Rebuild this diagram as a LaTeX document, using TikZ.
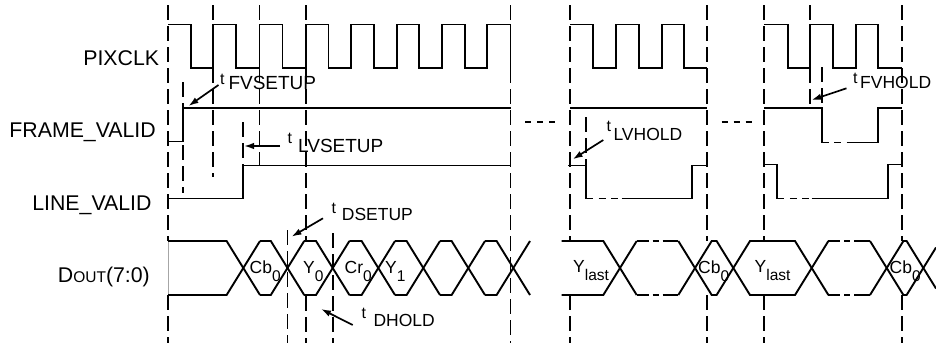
\documentclass[tikz,border=0pt]{standalone}
\usepackage{fontspec}
\setmainfont{Liberation Sans}
\usetikzlibrary{arrows.meta}
\begin{document}
\begin{tikzpicture}[x=1pt,y=-1pt,
  sig/.style={line width=1.9pt},
  gridl/.style={line width=1.7pt, dash pattern=on 15pt off 6pt},
  lowdash/.style={line width=1.9pt, dash pattern=on 7pt off 5.5pt},
  dd/.style={line width=1.9pt, dash pattern=on 12pt off 4pt on 6pt off 4pt on 20pt off 10pt},
  arr/.style={line width=1.7pt, -{Latex[length=10pt,width=6.5pt]}},
  mlab/.style={font=\fontsize{21.3}{24}\selectfont, inner sep=0pt},
  lab/.style={font=\fontsize{17.5}{20}\selectfont, inner sep=0pt, anchor=base west},
  labb/.style={font=\fontsize{19}{22}\selectfont, inner sep=0pt, anchor=base west},
  tsm/.style={font=\fontsize{16}{18}\selectfont, inner sep=0pt, anchor=base west},
  dat/.style={font=\fontsize{17.5}{20}\selectfont, inner sep=0pt, anchor=base west},
]
\newcommand{\mysub}[1]{\raisebox{-8.5pt}{\fontsize{15.5}{17}\selectfont #1}}
\useasboundingbox (0,0) rectangle (936,343);

% ---------- signal names ----------
\node[mlab, anchor=base east] (npix) at (159.3,65) {PIXCLK};
\node[mlab, anchor=base east] (nfv) at (156,137.3) {FRAME\_VALID};
\node[mlab, anchor=base east] (nlv) at (151.7,210) {LINE\_VALID};
\node[mlab, anchor=base east] (nd) at (150,282.7) {D{\fontsize{15.5}{17}\selectfont OUT}(7:0)};

% ---------- dashed reference lines ----------
\draw[gridl] (168,5) -- (168,241);
\draw[gray!70, line width=0.6pt] (168,241) -- (168,295);
\draw[gridl] (168,295) -- (168,343);
\draw[gridl] (183,82) -- (183,193);
\draw[gridl] (213,5) -- (213,177);
\draw[gridl] (243,122) -- (243,166);
\draw[gridl] (259.5,5) -- (259.5,166);
\draw[gridl] (305.7,5) -- (305.7,241);
\draw[gridl] (305.7,296) -- (305.7,343);
\draw[gridl] (287.5,230) -- (287.5,343);
\draw[gridl] (332.7,233) -- (332.7,343);
\draw[gridl] (510.5,5) -- (510.5,343);
\draw[gridl] (570,5) -- (570,241);
\draw[gridl] (570,295) -- (570,343);
\draw[gridl] (586,117) -- (586,165.5);
\draw[gridl] (706.7,5) -- (706.7,241);
\draw[gridl] (706.7,295) -- (706.7,343);
\draw[gridl] (764,5) -- (764,241);
\draw[gridl] (764,295) -- (764,343);
\draw[gridl] (810,5) -- (810,108);
\draw[gridl] (821.7,67) -- (821.7,108);
\draw[gridl] (901.7,5) -- (901.7,241);
\draw[gridl] (901.7,295) -- (901.7,343);

% ---------- PIXCLK ----------
\draw[sig] (168,24.5) -| (191,68) -| (213,24.5) -| (236,68) -| (259.5,24.5) -| (282.5,68)
  -| (305.7,24.5) -| (328.5,68) -| (351.2,24.5) -| (374,68) -| (396.7,24.5) -| (419.3,68)
  -| (442,24.5) -| (464.7,68) -| (487.3,24.5) -| (510.5,68);
\draw[sig] (570,24.5) -| (593.3,68) -| (616,24.5) -| (639,68) -| (661.7,24.5) -| (684.3,68) -- (706.7,68);
\draw[sig] (764,24.5) -| (788.3,68) -| (810,24.5) -| (833.3,68) -| (855.7,24.5) -| (878.3,68) -- (901.7,68);

% ---------- FRAME_VALID ----------
\draw[sig] (168,141.5) -- (183,141.5) -- (183,108) -- (510.5,108);
\draw[sig] (570,108) -- (706.7,108);
\draw[sig] (764,108) -- (821.7,108) -- (821.7,142.5);
\draw[lowdash] (821.7,142.5) -- (853,142.5);
\draw[sig] (853,142.5) -- (878.3,142.5) -- (878.3,108) -- (901.7,108);
\draw[line width=1.7pt, dash pattern=on 6pt off 6pt] (525,122) -- (556,122);
\draw[line width=1.7pt, dash pattern=on 6pt off 6pt] (721.7,122) -- (752.7,122);

% ---------- LINE_VALID ----------
\draw[sig] (168,198.5) -- (243,198.5) -- (243,165.5) -- (510.5,165.5);
\draw[sig] (568,165.5) -- (586,165.5) -- (586,198.5);
\draw[lowdash] (586,198.5) -- (621.7,198.5);
\draw[sig] (621.7,198.5) -- (691.7,198.5) -- (691.7,165.5) -- (706.7,165.5);
\draw[sig] (763,164.5) -- (777.3,164.5) -- (777.3,198.5);
\draw[lowdash] (777.3,198.5) -- (811.7,198.5);
\draw[sig] (811.7,198.5) -- (888.3,198.5) -- (888.3,164.5) -- (901.7,164.5);

% ---------- DOUT ----------
\draw[sig] (168,241) -- (226.6,241) -- (260,295);
\draw[sig] (168,295) -- (226.6,295) -- (260,241);
\foreach \a/\b in {243.3/287.5, 287.5/332.7, 332.7/378.3, 378.3/423.3, 423.3/468.3, 468.3/513.3}{
  \draw[sig] (\a+16.7,241) -- (\b-16.7,241) -- (\b+16.7,295);
  \draw[sig] (\a+16.7,295) -- (\b-16.7,295) -- (\b+16.7,241);
}
% section 2/3
\draw[sig] (561.7,241) -- (603.3,241) -- (636.7,295);
\draw[sig] (561.7,295) -- (603.3,295) -- (636.7,241);
\draw[dd] (636.7,241) -- (678.3,241);
\draw[dd] (636.7,295) -- (678.3,295);
\draw[sig] (678.3,241) -- (711.7,295) -- (716.6,295) -- (750,241) -- (795,241) -- (828.4,295);
\draw[sig] (678.3,295) -- (711.7,241) -- (716.6,241) -- (750,295) -- (795,295) -- (828.4,241);
\draw[dd] (828.4,241) -- (870,241);
\draw[dd] (828.4,295) -- (870,295);
\draw[sig] (870,241) -- (903.4,295) -- (906.6,295) -- (936,247.5);
\draw[sig] (870,295) -- (903.4,241) -- (906.6,241) -- (936,288.5);

% ---------- data labels ----------
\node[dat] (cb0a) at (249.5,273) {Cb\mysub{0}};
\node[dat] (y0) at (303,273) {Y\mysub{0}};
\node[dat] (cr0) at (344.5,273) {Cr\mysub{0}};
\node[dat] (y1) at (385,273) {Y\mysub{1}};
\node[dat] (yla) at (573,272) {Y\mysub{last}};
\node[dat] (cb0b) at (698,273) {Cb\mysub{0}};
\node[dat] (ylb) at (754.5,272) {Y\mysub{last}};
\node[dat] (cb0c) at (889.5,273) {Cb\mysub{0}};

% ---------- timing labels ----------
\node[tsm] (tfvs) at (220,84) {t};
\node[labb] (lfvs) at (228.3,89.5) {FVSETUP};
\node[tsm] (tlvs) at (287.5,143.3) {t};
\node[labb] (llvs) at (298,152) {LVSETUP};
\node[tsm] (tlvh) at (606.5,131.7) {t};
\node[lab] (llvh) at (613.3,140) {LVHOLD};
\node[tsm] (tfvh) at (853,83.3) {t};
\node[lab] (lfvh) at (860,88.3) {FVHOLD};
\node[tsm] (tdsu) at (331.5,213.3) {t};
\node[lab] (ldsu) at (341.7,220) {DSETUP};
\node[tsm] (tdho) at (361.5,318.3) {t};
\node[lab] (ldho) at (373.3,326) {DHOLD};

% ---------- arrows ----------
\coordinate (afvs1) at (218.5,85);   \coordinate (afvs2) at (188.5,106);
\coordinate (alvs1) at (280,146);    \coordinate (alvs2) at (244,146);
\coordinate (alvh1) at (603.3,140);  \coordinate (alvh2) at (572.7,159.3);
\coordinate (afvh1) at (846.5,88.3); \coordinate (afvh2) at (811.5,100);
\coordinate (adsu1) at (323,218.3);  \coordinate (adsu2) at (291.5,236.7);
\coordinate (adho1) at (352.7,325);  \coordinate (adho2) at (321,309);
\draw[arr] (afvs1) -- (afvs2);
\draw[arr] (alvs1) -- (alvs2);
\draw[arr] (alvh1) -- (alvh2);
\draw[arr] (afvh1) -- (afvh2);
\draw[arr] (adsu1) -- (adsu2);
\draw[arr] (adho1) -- (adho2);
\end{tikzpicture}
\end{document}
